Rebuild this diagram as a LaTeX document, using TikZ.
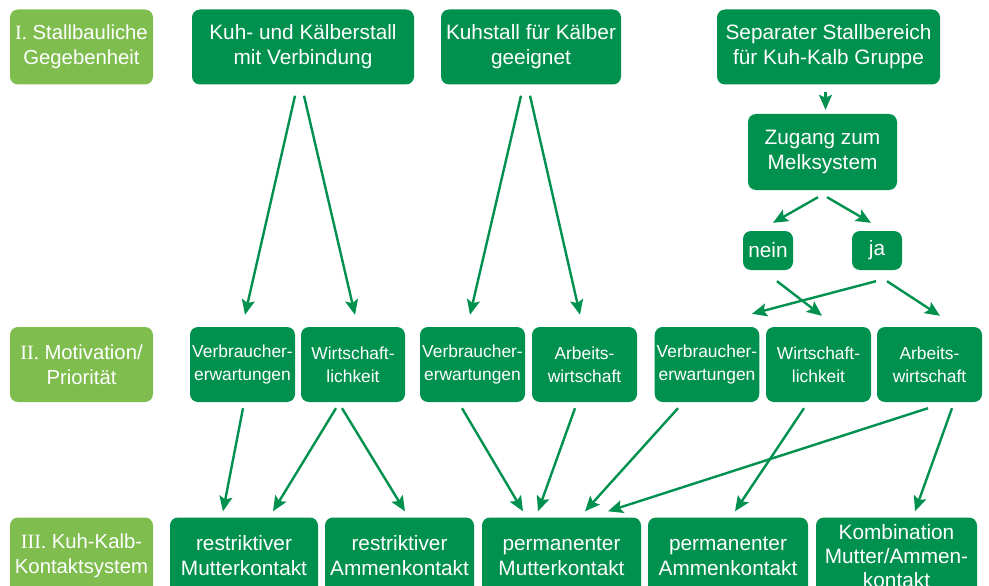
\documentclass[tikz,border=0pt]{standalone}
\usepackage{fontspec}
\setmainfont{Liberation Sans}
\newfontfamily\zahlfont{Liberation Serif}
\usepackage{tikz}
\usetikzlibrary{arrows.meta,positioning,calc}
\definecolor{hellgruen}{HTML}{7FBD4F}
\definecolor{dunkelgruen}{HTML}{00914F}

\begin{document}
\begin{tikzpicture}[
        x=1pt, y=-1pt,
        kasten/.style={rectangle, rounded corners=8pt, fill=dunkelgruen, text=white,
                       align=center, inner sep=2pt, minimum height=75pt,
                       font=\fontsize{20.8}{25}\selectfont},
        ebene/.style={kasten, fill=hellgruen, minimum width=143pt, font=\fontsize{20.3}{25}\selectfont},
        motiv/.style={kasten, minimum width=105pt, font=\fontsize{17.4}{23}\selectfont},
        pfeil/.style={-{Stealth[length=15pt, width=13pt, inset=3pt]}, line width=2.4pt, dunkelgruen}
    ]
        \useasboundingbox (0,0) rectangle (989,586);

        % Ebenen links
        \node[ebene] (e1) at (81.5,47) {{\zahlfont I.} Stallbauliche\\Gegebenheit};
        \node[ebene] (e2) at (81.5,364.5) {{\zahlfont II.} Motivation/\\Priorit\"at};
        \node[ebene, minimum height=77pt] (e3) at (81.5,556) {{\zahlfont III.} Kuh-Kalb-\\Kontaktsystem};

        % I. Stallbauliche Gegebenheit
        \node[kasten, minimum width=222pt] (kv) at (303,47) {Kuh- und K\"alberstall\\mit Verbindung};
        \node[kasten, minimum width=180pt] (ks) at (531,47) {Kuhstall f\"ur K\"alber\\geeignet};
        \node[kasten, minimum width=223pt] (sep) at (828.5,47) {Separater Stallbereich\\f\"ur Kuh-Kalb Gruppe};
        \node[kasten, minimum width=149pt, minimum height=76pt] (zug) at (822.5,152) {Zugang zum\\Melksystem};
        \node[kasten, minimum width=50pt, minimum height=39pt] (nein) at (768,250.5) {nein};
        \node[kasten, minimum width=50pt, minimum height=39pt] (ja) at (877,250.5) {ja};

        % II. Motivation
        \node[motiv] (ve1) at (242.5,364.5) {Verbraucher-\\erwartungen};
        \node[motiv, minimum width=104pt] (wi1) at (353,364.5) {Wirtschaft-\\lichkeit};
        \node[motiv] (ve2) at (472.5,364.5) {Verbraucher-\\erwartungen};
        \node[motiv] (ar2) at (584.5,364.5) {Arbeits-\\wirtschaft};
        \node[motiv, minimum width=104pt] (ve3) at (707,364.5) {Verbraucher-\\erwartungen};
        \node[motiv] (wi3) at (818.5,364.5) {Wirtschaft-\\lichkeit};
        \node[motiv] (ar3) at (929.5,364.5) {Arbeits-\\wirtschaft};

        % III. Kontaktsystem
        \node[kasten, minimum width=148pt, minimum height=77pt] (rm) at (244,556) {restriktiver\\Mutterkontakt};
        \node[kasten, minimum width=149pt, minimum height=77pt] (ra) at (399.5,556) {restriktiver\\Ammenkontakt};
        \node[kasten, minimum width=159pt, minimum height=77pt] (pm) at (561.5,556) {permanenter\\Mutterkontakt};
        \node[kasten, minimum width=160pt, minimum height=77pt] (pa) at (728,556) {permanenter\\Ammenkontakt};
        \node[kasten, minimum width=161pt, minimum height=77pt, font=\fontsize{20.8}{24}\selectfont] (ko) at (896.5,556) {Kombination\\Mutter/Ammen-\\kontakt};

        \draw[pfeil] ($(kv.south)+(-8,11)$) -- ($(ve1.north)+(2.5,-12)$);
        \draw[pfeil] ($(kv.south)+(1,11)$) -- ($(wi1.north)+(2,-12)$);
        \draw[pfeil] ($(ks.south)+(-10,11)$) -- ($(ve2.north)+(-2.5,-12)$);
        \draw[pfeil] ($(ks.south)+(-1,11)$) -- ($(ar2.north)+(-4.5,-12)$);
        \draw[pfeil] ($(sep.south)+(-3,7)$) -- ($(zug.north)+(3,-4)$);
        \draw[pfeil] ($(zug.south)+(-4.5,7)$) -- ($(nein.north)+(5,-8)$);
        \draw[pfeil] ($(zug.south)+(4.5,7)$) -- ($(ja.north)+(-6,-8)$);
        \draw[pfeil] ($(nein.south)+(9,11)$) -- ($(wi3.north)+(3.5,-11)$);
        \draw[pfeil] ($(ja.south)+(-1,11)$) -- ($(ve3.north)+(45,-13)$);
        \draw[pfeil] ($(ja.south)+(10,11)$) -- ($(ar3.north)+(10.5,-11)$);

        \draw[pfeil] ($(ve1.south)+(0.5,6)$) -- ($(rm.north)+(-21,-6)$);
        \draw[pfeil] ($(wi1.south)+(-17,6)$) -- ($(rm.north)+(29,-6)$);
        \draw[pfeil] ($(wi1.south)+(-11,6)$) -- ($(ra.north)+(5.5,-6)$);
        \draw[pfeil] ($(ve2.south)+(-10.5,6)$) -- ($(pm.north)+(-38.5,-6)$);
        \draw[pfeil] ($(ar2.south)+(-9.5,6)$) -- ($(pm.north)+(-23.5,-6)$);
        \draw[pfeil] ($(ve3.south)+(-29,6)$) -- ($(pm.north)+(23.5,-6)$);
        \draw[pfeil] ($(ar3.south)+(-1.5,6)$) -- ($(pm.north)+(46.5,-6)$);
        \draw[pfeil] ($(wi3.south)+(-14.5,6)$) -- ($(pa.north)+(7,-6)$);
        \draw[pfeil] ($(ar3.south)+(22.5,6)$) -- ($(ko.north)+(18.5,-6)$);
    \end{tikzpicture}
\end{document}
